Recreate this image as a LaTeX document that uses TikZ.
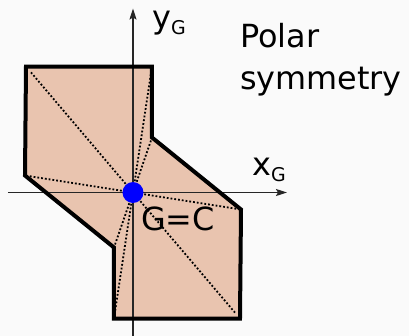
\documentclass[tikz,border=0pt]{standalone}
\usepackage{fontspec}
\setmainfont{DejaVu Sans}
\usetikzlibrary{arrows.meta,calc}
\definecolor{peach}{RGB}{233,196,175}
\newcommand{\axsub}[1]{\raisebox{-6bp}{\fontsize{19}{19}\selectfont #1}}

\begin{document}
\begin{tikzpicture}[
  x=1bp, y=1bp,
  font=\fontsize{32}{42}\selectfont,
  axis/.style={line width=1.5bp, black!85},
  border/.style={line width=4bp, line join=miter},
  ray/.style={line width=1.8bp, dash pattern=on 1.8bp off 2bp},
  lbl/.style={inner sep=0pt, anchor=base west, align=left},
  >={Stealth[length=11bp,width=7bp,inset=2bp]}
]
\fill[black!2] (-133,-143.5) rectangle (276,192.5);
\useasboundingbox (-133,-143.5) rectangle (276,192.5);
% vertices of the shape
\coordinate (a) at (-107,126);
\coordinate (b) at (19,126);
\coordinate (c) at (19,55);
\coordinate (d) at (108,-17);
\coordinate (e) at (107,-126);
\coordinate (f) at (-19,-126);
\coordinate (g) at (-19,-55);
\coordinate (h) at (-108,17);
\fill[peach] (a) -- (b) -- (c) -- (d) -- (e) -- (f) -- (g) -- (h) -- cycle;
\coordinate (G) at (0,0);
\foreach \v in {a,b,c,d,e,f,g,h}
  \draw[ray] (G) -- ($(G)!0.96!(\v)$);
% axes
\coordinate (xs) at (-125,0);
\coordinate (xe) at (154,0);
\coordinate (ys) at (0,-143.5);
\coordinate (ye) at (0,184);
\draw[axis,->] (xs) -- (xe);
\draw[axis,->] (ys) -- (ye);
\draw[border] (a) -- (b) -- (c) -- (d) -- (e) -- (f) -- (g) -- (h) -- cycle;
\node[circle, fill=blue, minimum size=21bp, inner sep=0pt] (dot) at (G) {};
% labels
\node[lbl] (ylab) at (19,164.5) {y\axsub{G}};
\node[lbl] (xlab) at (119,17.5) {x\axsub{G}};
\node[lbl] (gc) at (8,-37.5) {G=C};
\node[lbl] (title) at (107,103.5) {Polar\\symmetry};
\end{tikzpicture}
\end{document}
